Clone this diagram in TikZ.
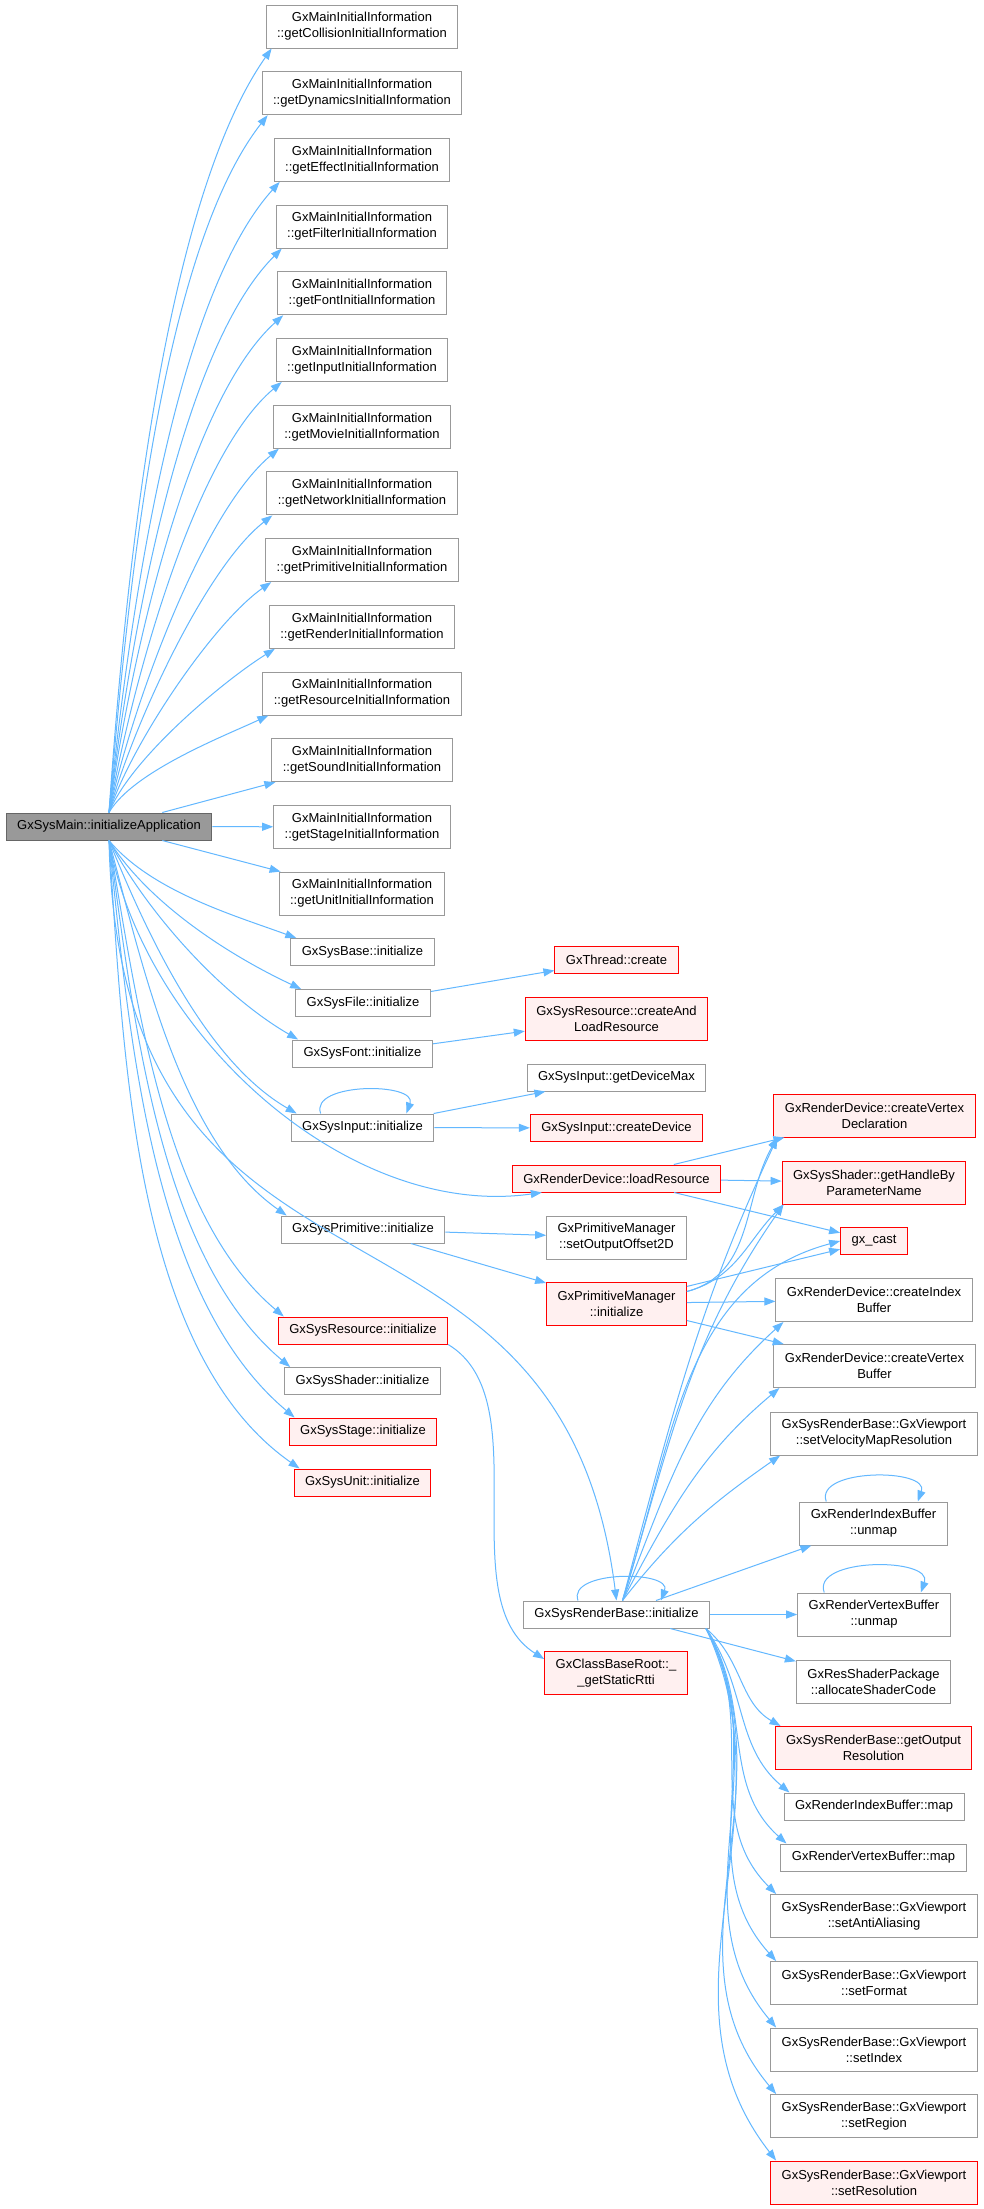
\documentclass[tikz,border=0pt]{standalone}
\usepackage{fontspec}
\setmainfont{Liberation Sans}
\usetikzlibrary{arrows.meta, positioning, calc}
\definecolor{CEdge}{HTML}{63B8FF}
\definecolor{CBorder}{HTML}{999999}
\definecolor{CMain}{HTML}{999999}
\definecolor{CMainBorder}{HTML}{666666}
\definecolor{CRed}{HTML}{FF0000}
\definecolor{CRedFill}{HTML}{FFF0F0}

\begin{document}
\begin{tikzpicture}[x=1pt, y=1pt,
    box/.style={draw=CBorder, line width=1pt, fill=white, font=\fontsize{13}{16}\selectfont, inner xsep=11pt, inner ysep=4pt, minimum height=27pt, align=center},
    twoline/.style={minimum height=43pt},
    redbox/.style={box, draw=CRed, fill=CRedFill},
    mainbox/.style={box, draw=CMainBorder, fill=CMain},
    edge/.style={draw=CEdge, line width=1pt, -{Triangle[length=11pt, width=8pt]}}]
    \fill[white] (0,0) rectangle (984,-2209);
    \useasboundingbox (0,0) rectangle (984,-2209);

    % caller
    \node[mainbox] (main) at (109,-826.5) {GxSysMain::initializeApplication};

    % initial information getters
    \foreach \n/\t [count=\i from 0] in {gcoll/Collision, gdyn/Dynamics, geff/Effect, gfilt/Filter, gfont/Font, ginp/Input, gmov/Movie, gnet/Network, gprim/Primitive, grend/Render, gres/Resource, gsnd/Sound, gstg/Stage, gunit/Unit}
        \node[box, twoline] (\n) at (362, {-26.5-66.7*\i}) {GxMainInitialInformation\\::get\t InitialInformation};

    % systems
    \node[box] (sbase) at (362.5,-952) {GxSysBase::initialize};
    \node[box] (sfile) at (363,-1003) {GxSysFile::initialize};
    \node[box] (sfont) at (362.5,-1053.5) {GxSysFont::initialize};
    \node[box] (sinput) at (362.5,-1127.5) {GxSysInput::initialize};
    \node[box] (sprim) at (363,-1229.5) {GxSysPrimitive::initialize};
    \node[redbox] (sres) at (363,-1330.5) {GxSysResource::initialize};
    \node[box] (sshader) at (362.5,-1381) {GxSysShader::initialize};
    \node[redbox] (sstage) at (363,-1431.5) {GxSysStage::initialize};
    \node[redbox] (sunit) at (362.5,-1482.5) {GxSysUnit::initialize};

    % third column
    \node[redbox] (thread) at (616.5,-960) {GxThread::create};
    \node[redbox, twoline] (cload) at (616.5,-1018.5) {GxSysResource::createAnd\\LoadResource};
    \node[box] (devmax) at (616.5,-1077.5) {GxSysInput::getDeviceMax};
    \node[redbox] (cdev) at (616.5,-1128) {GxSysInput::createDevice};
    \node[redbox] (lres) at (616.5,-1178.5) {GxRenderDevice::loadResource};
    \node[box, twoline] (offset) at (616.5,-1237.5) {GxPrimitiveManager\\::setOutputOffset2D};
    \node[redbox, twoline] (pminit) at (616.5,-1303.5) {GxPrimitiveManager\\::initialize};
    \node[box] (srb) at (616.5,-1614.5) {GxSysRenderBase::initialize};
    \node[redbox, twoline] (rtti) at (616,-1673) {GxClassBaseRoot::\_\\\_getStaticRtti};

    % render side
    \node[redbox, twoline] (cvdecl) at (874.5,-1115.5) {GxRenderDevice::createVertex\\Declaration};
    \node[redbox, twoline] (hparam) at (874,-1182.5) {GxSysShader::getHandleBy\\ParameterName};
    \node[redbox] (gxcast) at (874,-1241) {gx\_cast};
    \node[box, twoline] (cib) at (874,-1300) {GxRenderDevice::createIndex\\Buffer};
    \node[box, twoline] (cvb) at (874.5,-1366) {GxRenderDevice::createVertex\\Buffer};
    \node[box, twoline] (velo) at (874,-1433.5) {GxSysRenderBase::GxViewport\\::setVelocityMapResolution};
    \node[box, twoline] (ibunmap) at (873.5,-1523.5) {GxRenderIndexBuffer\\::unmap};
    \node[box, twoline] (vbunmap) at (874,-1614.5) {GxRenderVertexBuffer\\::unmap};
    \node[box, twoline] (alloc) at (873.5,-1681.5) {GxResShaderPackage\\::allocateShaderCode};
    \node[redbox, twoline] (outres) at (873.5,-1748) {GxSysRenderBase::getOutput\\Resolution};
    \node[box] (ibmap) at (874,-1806.5) {GxRenderIndexBuffer::map};
    \node[box] (vbmap) at (873.5,-1857.5) {GxRenderVertexBuffer::map};
    \foreach \n/\t/\y in {vaa/AntiAliasing/-1916, vfmt/Format/-1983, vidx/Index/-2049.5, vreg/Region/-2116}
        \node[box, twoline] (\n) at (874,\y) {GxSysRenderBase::GxViewport\\::set\t};
    \node[redbox, twoline] (vres) at (874,-2182.5) {GxSysRenderBase::GxViewport\\::setResolution};

    % calls from main
    \foreach \n/\o/\a in {gcoll/86/235, gdyn/85/232, geff/84/228, gfilt/83/225, gfont/82/222, ginp/80/220, gmov/78/220, gnet/75/218, gprim/72/215, grend/68/212, gres/60/205}
        \draw[edge] (main.north) to[out=\o, in=\a, looseness=0.65] ($(\n.south west)+(6,0)$);
    \draw[edge] ($(main.north east)+(-50,0)$) -- ($(gsnd.south west)+(4,0)$);
    \draw[edge] (main) -- (gstg);
    \draw[edge] ($(main.south east)+(-50,0)$) -- ($(gunit.north west)+(2,0)$);
    \foreach \n/\o/\a in {sbase/-50/160, sfile/-58/155, sfont/-62/150, sinput/-68/150, sprim/-75/145, sres/-80/140, sshader/-82/140, sstage/-84/140, sunit/-86/145}
        \draw[edge] (main.south) to[out=\o, in=\a, looseness=0.8] ($(\n.north west)+(6,0)$);
    \draw[edge] (main.south) to[out=-80, in=188, looseness=0.9] ($(lres.south west)+(30,0)$);
    \draw[edge] (main.south) .. controls (120,-1350) and (560,-1150) .. (srb.north);

    % second level
    \draw[edge] (sfile) -- (thread);
    \draw[edge] (sfont) -- (cload);
    \draw[edge] ($(sinput.north west)+(30,0)$) to[out=110, in=70] ($(sinput.north east)+(-28,0)$);
    \draw[edge] (sinput) -- (devmax);
    \draw[edge] (sinput) -- (cdev);
    \draw[edge] (lres) -- (cvdecl);
    \draw[edge] (lres) -- (hparam);
    \draw[edge] (lres) -- (gxcast);
    \draw[edge] (sprim) -- (offset);
    \draw[edge] (sprim) -- (pminit);
    \draw[edge] ($(pminit.east)+(0,12)$) to[out=15, in=240] ($(cvdecl.south west)+(4,0)$);
    \draw[edge] ($(pminit.east)+(0,12)$) to[out=15, in=225] ($(hparam.south west)+(2,0)$);
    \draw[edge] (pminit) -- (gxcast);
    \draw[edge] (pminit) -- (cib);
    \draw[edge] (pminit) -- (cvb);
    \draw[edge] (sres.south east) .. controls (540,-1400) and (450,-1600) .. ($(rtti.north west)+(0,-8)$);

    % render base
    \draw[edge] ($(srb.north west)+(55,0)$) to[out=110, in=70] ($(srb.north east)+(-49,0)$);
    \foreach \n/\o/\a/\d in {cvdecl/75/245/4, hparam/73/235/2, cib/68/222/8, cvb/62/220/6, velo/52/215/10}
        \draw[edge] ($(srb.north)+(6,0)$) to[out=\o, in=\a] ($(\n.south west)+(\d,0)$);
    \draw[edge] ($(srb.north)+(6,0)$) to[out=72, in=195] (gxcast.west);
    \draw[edge] (srb) -- (ibunmap);
    \draw[edge] (srb) -- (vbunmap);
    \draw[edge] (srb) -- (alloc);
    \foreach \n/\o/\a in {outres/-40/150, ibmap/-55/140, vbmap/-58/138, vaa/-60/135, vfmt/-60/132, vidx/-62/130, vreg/-62/130, vres/-65/128}
        \draw[edge] ($(srb.south east)+(-4,0)$) to[out=\o, in=\a] ($(\n.north west)+(6,0)$);
    \draw[edge] ($(ibunmap.north west)+(27,0)$) to[out=110, in=70] ($(ibunmap.north east)+(-30,0)$);
    \draw[edge] ($(vbunmap.north west)+(27,0)$) to[out=110, in=70] ($(vbunmap.north east)+(-30,0)$);
\end{tikzpicture}
\end{document}
